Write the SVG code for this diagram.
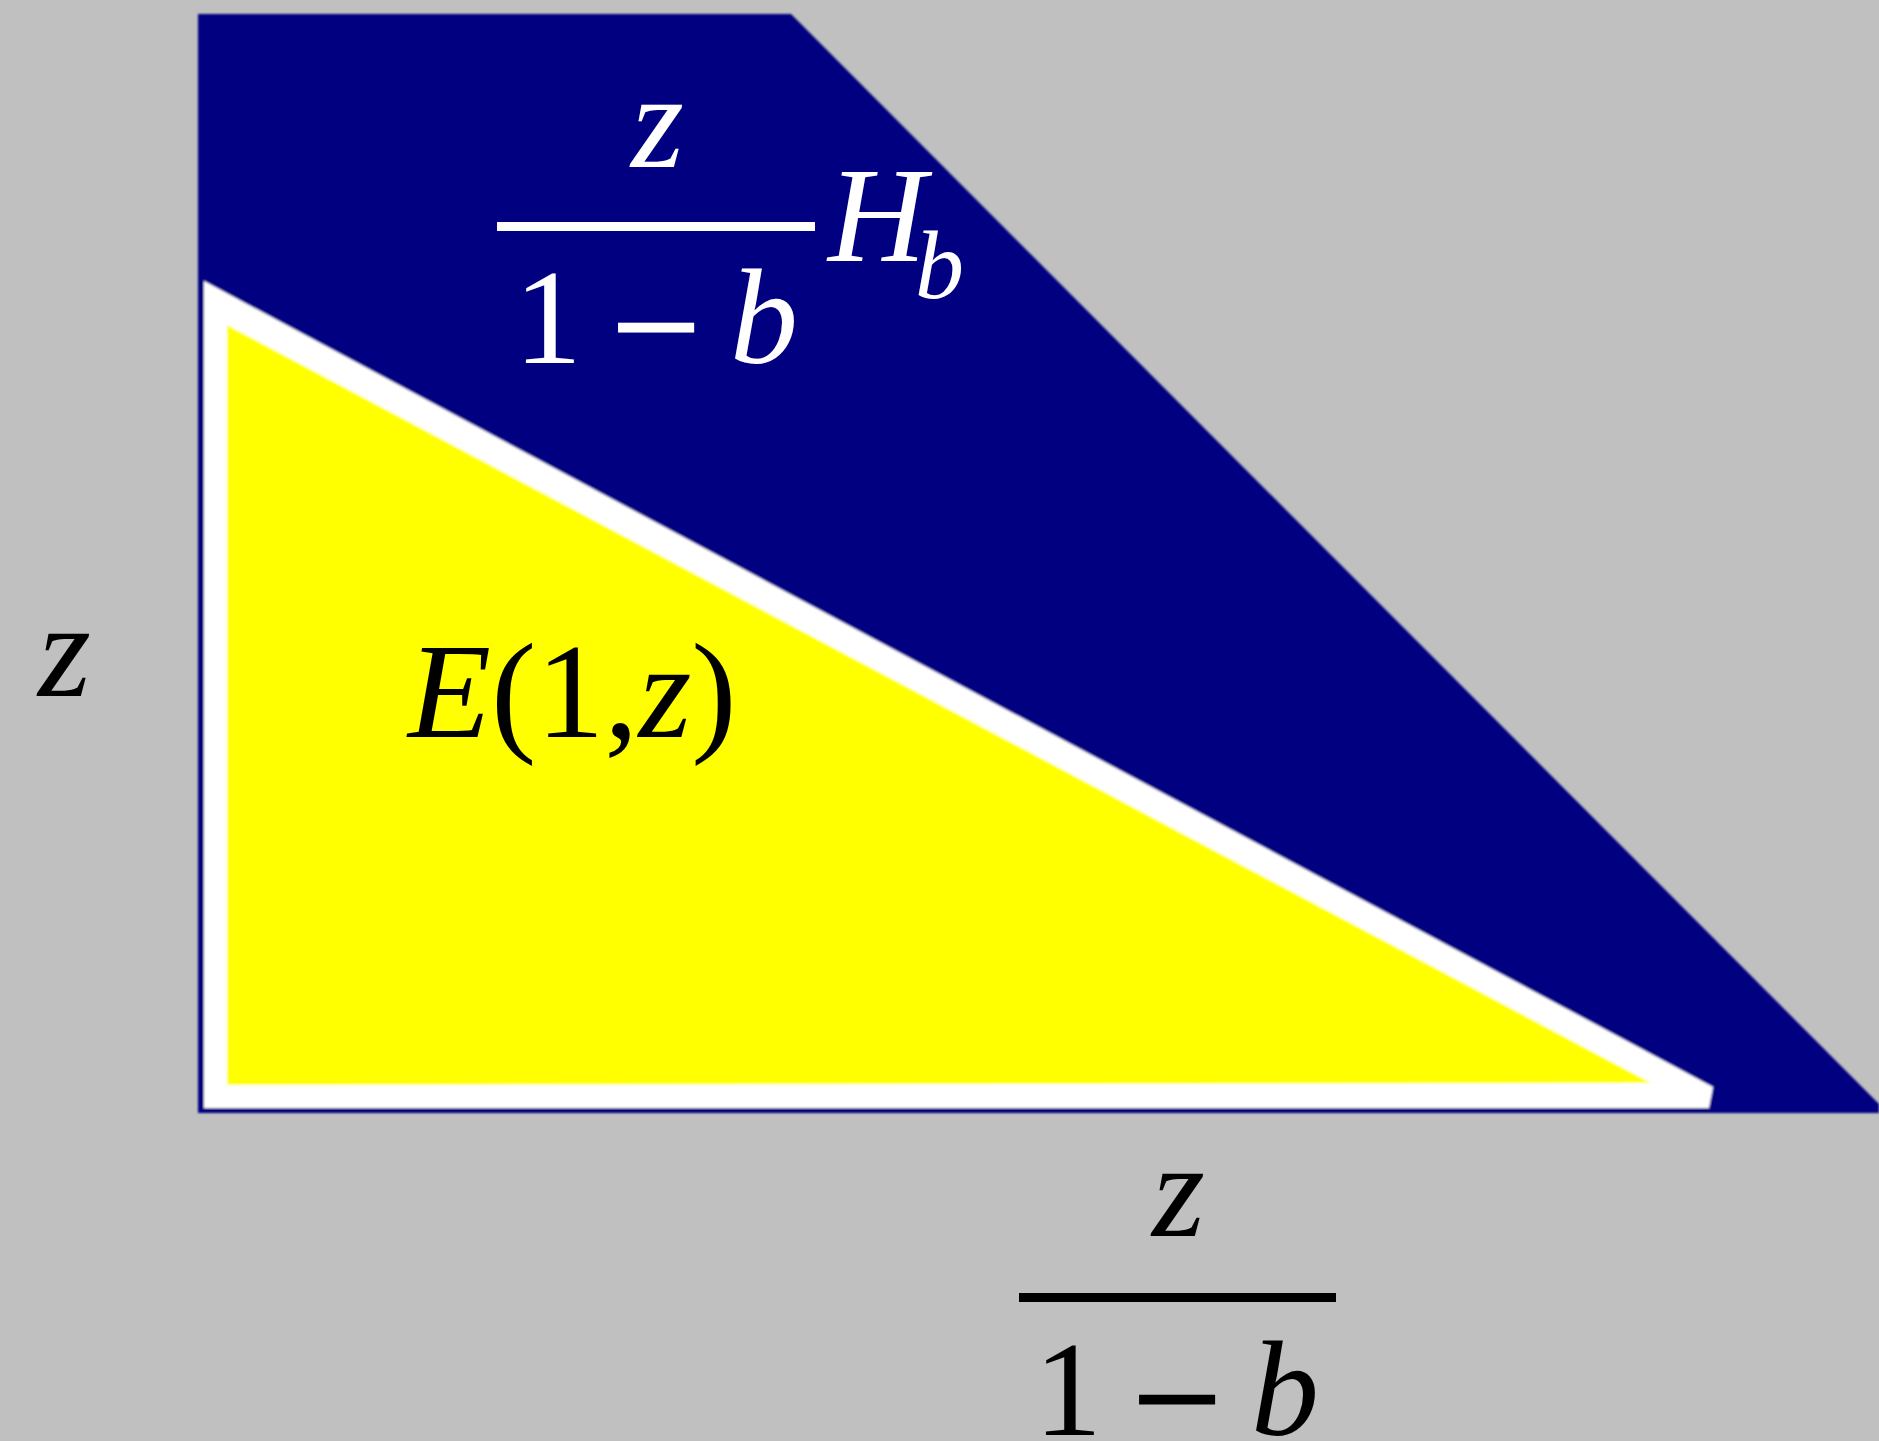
<svg xmlns="http://www.w3.org/2000/svg" width="1879" height="1441" viewBox="0 0 1879 1441">
  <defs>
    <filter id="soft" x="-2%" y="-2%" width="104%" height="104%">
      <feGaussianBlur stdDeviation="1.2"/>
    </filter>
  </defs>
  <style>
    .m { font-family: "Liberation Serif", "Times New Roman", serif; font-size: 136px; }
    .i { font-style: italic; }
    .sub { font-size: 98px; }
    .w { fill: #FFFFFF; }
    .k { fill: #000000; }
    .w .minus { stroke: #FFFFFF; stroke-width: 3px; }
    .k .minus { stroke: #000000; stroke-width: 3px; }
  </style>
  <rect x="0" y="0" width="1879" height="1441" fill="#C0C0C0"/>
  <g id="shapes" filter="url(#soft)">
    <polygon id="blue-region" points="198,14 791,14 1879,1104 1879,1113 198,1113" fill="#000080"/>
    <polygon id="white-triangle" points="204,281 1713,1087 1709,1108 204,1108" fill="#FFFFFF"/>
    <polygon id="yellow-triangle" points="227,325 1651,1083 227,1085" fill="#FFFF00"/>
  </g>
  <g id="label-top" class="w">
    <text class="m i" x="631" y="167">z</text>
    <rect x="497" y="222" width="318" height="9"/>
    <text class="m" x="514" y="363">1</text>
    <text class="m minus" x="656" y="373" text-anchor="middle" textLength="88" lengthAdjust="spacingAndGlyphs">−</text>
    <text class="m i" x="730" y="363">b</text>
    <text class="m i" x="828" y="261">H</text>
    <text class="m i sub" x="915" y="298">b</text>
  </g>
  <g id="label-E" class="k">
    <text class="m" x="408" y="737"><tspan class="i">E</tspan>(1,<tspan class="i">z</tspan>)</text>
  </g>
  <g id="label-z-left" class="k">
    <text class="m i" x="38" y="696">z</text>
  </g>
  <g id="label-bottom" class="k">
    <text class="m i" x="1152" y="1236">z</text>
    <rect x="1019" y="1293" width="317" height="9"/>
    <text class="m" x="1034" y="1435">1</text>
    <text class="m minus" x="1177" y="1445" text-anchor="middle" textLength="88" lengthAdjust="spacingAndGlyphs">−</text>
    <text class="m i" x="1251" y="1435">b</text>
  </g>
</svg>
